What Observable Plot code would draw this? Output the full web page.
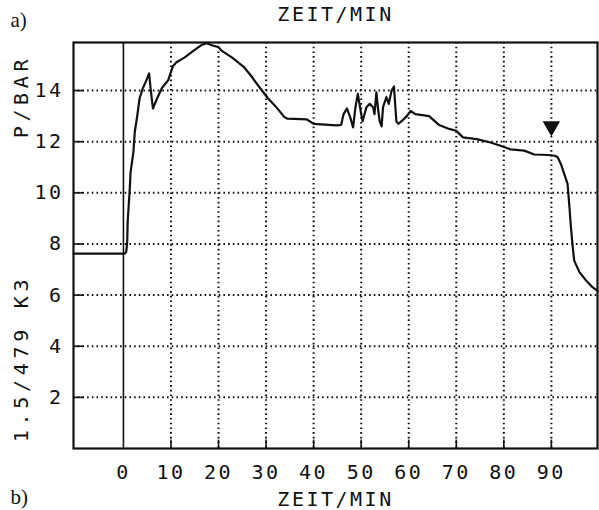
<!DOCTYPE html>
<html>
<head>
<meta charset="utf-8">
<script src="https://cdn.jsdelivr.net/npm/d3@7"></script>
<script src="https://cdn.jsdelivr.net/npm/@observablehq/plot@0.6"></script>
<style>
  html, body { margin: 0; padding: 0; background: #fff; }
</style>
</head>
<body>
<div id="chart"></div>
<script>
// Time (min) and pressure (bar)
const zeit = [-10.5, 0.3, 0.6, 0.8, 0.9, 1.3, 1.5, 2.1, 2.4, 2.9, 3.4, 4.1, 4.7, 5.4, 5.7, 6.2, 7.1, 8.1, 9.4, 10.4, 11.1, 12.9, 14.7, 16.4, 17.5, 18.6, 20.0, 20.7, 22.8, 25.3, 27.0, 28.8, 30.4, 32.1, 33.8, 34.5, 38.6, 40.0, 44.8, 45.8, 46.3, 47.0, 47.7, 48.3, 48.8, 49.3, 50.0, 50.3, 51.1, 51.8, 52.5, 52.8, 53.2, 53.6, 53.9, 54.3, 54.6, 55.3, 55.8, 56.4, 56.9, 57.1, 57.4, 57.8, 58.5, 59.6, 60.4, 61.4, 64.3, 66.4, 68.5, 70.0, 71.4, 74.3, 77.2, 79.3, 81.4, 84.3, 86.4, 89.3, 90.7, 91.3, 92.0, 92.7, 93.4, 93.8, 94.1, 94.5, 94.8, 95.9, 97.3, 98.7, 99.7];
const druck = [7.62, 7.62, 7.7, 8.1, 8.9, 10.05, 10.8, 11.6, 12.4, 13.0, 13.7, 14.1, 14.35, 14.67, 14.1, 13.3, 13.7, 14.1, 14.4, 14.95, 15.1, 15.3, 15.55, 15.78, 15.85, 15.77, 15.7, 15.55, 15.3, 14.93, 14.54, 14.08, 13.7, 13.36, 12.97, 12.9, 12.87, 12.7, 12.64, 12.66, 13.08, 13.3, 12.95, 12.56, 13.35, 13.87, 13.08, 12.8, 13.35, 13.48, 13.35, 13.08, 13.93, 13.2, 12.8, 12.6, 13.35, 13.74, 13.48, 14.0, 14.16, 13.6, 12.8, 12.7, 12.8, 13.0, 13.2, 13.08, 13.0, 12.65, 12.5, 12.43, 12.17, 12.1, 11.97, 11.84, 11.7, 11.65, 11.5, 11.48, 11.45, 11.4, 11.13, 10.74, 10.35, 9.45, 8.67, 7.87, 7.35, 6.9, 6.57, 6.3, 6.17];
const xTicks = [0, 10, 20, 30, 40, 50, 60, 70, 80, 90];
const xGrid = [10, 20, 30, 40, 50, 60, 70, 80, 90];
const yTicks = [2, 4, 6, 8, 10, 12, 14];
const marker = [{t: 90, p: 12.6}];
const xDomain = [-10.5, 99.7];
const yDomain = [0, 15.88];

const data = zeit.map((t, i) => ({t, p: druck[i]}));
const mono = "DejaVu Sans Mono";
const fs = 20;
const ink = "#111";
const txt = {fontFamily: mono, fontSize: fs, fill: ink, lineAnchor: "middle"};

const svg = Plot.plot({
  width: 599,
  height: 510,
  marginLeft: 73,
  marginRight: 2,
  marginTop: 42,
  marginBottom: 62,
  style: {background: "#fff", color: ink},
  x: {domain: xDomain, axis: null},
  y: {domain: yDomain, axis: null},
  marks: [
    // dotted grid
    Plot.ruleX(xGrid, {x: d => d, stroke: ink, strokeWidth: 2, strokeDasharray: "1.6,3.1"}),
    Plot.ruleY(yTicks, {y: d => d, stroke: ink, strokeWidth: 2, strokeDasharray: "1.6,3.1"}),
    // solid tick stubs
    Plot.ruleX(xGrid, {x: d => d, y1: 0, y2: 0.33, stroke: ink, strokeWidth: 1.6}),
    Plot.ruleY(yTicks, {y: d => d, x1: xDomain[0], x2: xDomain[0] + 2.2, stroke: ink, strokeWidth: 1.6}),
    // zero line
    Plot.ruleX([0], {stroke: ink, strokeWidth: 1.6}),
    Plot.frame({stroke: ink, strokeWidth: 2.2}),
    // trace
    Plot.line(data, {x: "t", y: "p", stroke: ink, strokeWidth: 2.2, strokeLinejoin: "round"}),
    Plot.dot(marker, {x: "t", y: "p", symbol: "triangle", rotate: 180, r: 6.5, fill: ink, stroke: "none"}),
    // tick labels
    Plot.text(yTicks, {y: d => d, text: d => String(d), frameAnchor: "left", dx: -10, textAnchor: "end", ...txt}),
    Plot.text(xTicks, {x: d => d, text: d => String(d), frameAnchor: "bottom", dy: 24, textAnchor: "middle", ...txt}),
    // titles
    Plot.text(["ZEIT/MIN"], {frameAnchor: "top", dy: -27.5, textAnchor: "middle", ...txt}),
    Plot.text(["ZEIT/MIN"], {frameAnchor: "bottom", dy: 51, textAnchor: "middle", ...txt}),
    Plot.text(["P/BAR"], {frameAnchor: "top-left", dx: -52, dy: 54, rotate: -90, textAnchor: "middle", ...txt}),
    Plot.text(["1.5/479 K3"], {frameAnchor: "bottom-left", dx: -52, dy: -90, rotate: -90, textAnchor: "middle", ...txt}),
    Plot.text(["a)"], {frameAnchor: "top-left", dx: -63, dy: -22, textAnchor: "start", lineAnchor: "middle", fontFamily: "Liberation Serif", fontSize: 21, fill: ink}),
    Plot.text(["b)"], {frameAnchor: "bottom-left", dx: -63, dy: 48.5, textAnchor: "start", lineAnchor: "middle", fontFamily: "Liberation Serif", fontSize: 21, fill: ink})
  ]
});

d3.select(svg).selectAll("text").each(function() {
  const t = this.textContent;
  if (t === "a)" || t === "b)") return;
  if (t === "P/BAR" || t === "1.5/479 K3") {
    d3.select(this).style("letter-spacing", "4.7px");
  } else {
    d3.select(this).style("letter-spacing", "2.5px");
  }
});

document.getElementById("chart").appendChild(svg);
</script>
</body>
</html>
